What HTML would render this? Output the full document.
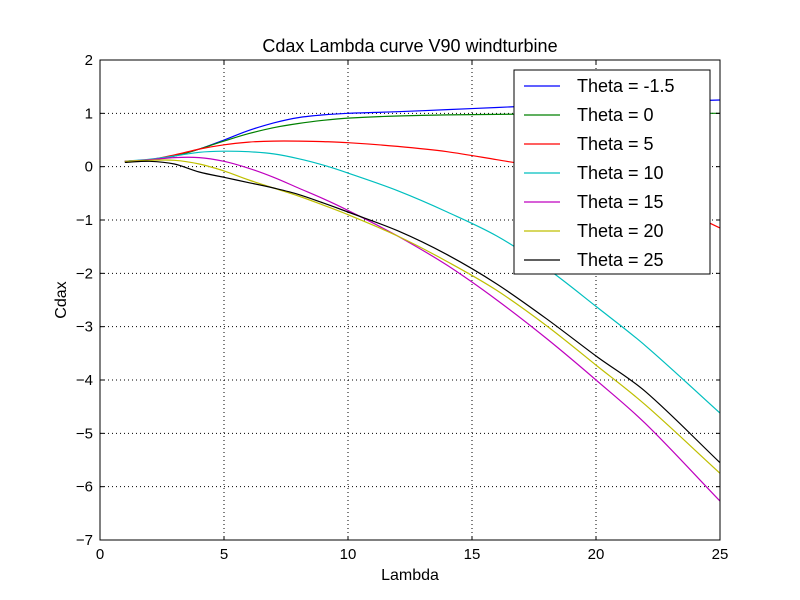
<!DOCTYPE html>
<html><head><meta charset="utf-8"><style>
body{margin:0;background:#fff;}
svg{display:block;font-family:"Liberation Sans","DejaVu Sans",sans-serif;}
</style></head><body>
<svg id="c" width="800" height="600"></svg>
<script>
const xs=[1,2,3,4,5,6,7,8,9,10,12,14,16,18,20,22,25];
const labels=["Theta = -1.5","Theta = 0","Theta = 5","Theta = 10","Theta = 15","Theta = 20","Theta = 25"];
const colors=["#0000ff","#008000","#ff0000","#00bfbf","#bf00bf","#bfbf00","#000000"];
const sM15=[0.1,0.13,0.2,0.33,0.5,0.68,0.82,0.92,0.97,1.0,1.03,1.07,1.11,1.15,1.18,1.21,1.25];
const s0=[0.1,0.13,0.2,0.33,0.48,0.62,0.73,0.81,0.87,0.91,0.95,0.97,0.98,0.99,1.0,1.0,1.0];
const s5=[0.1,0.13,0.22,0.33,0.41,0.46,0.48,0.48,0.47,0.45,0.38,0.28,0.13,-0.03,-0.25,-0.5,-1.15];
const s10=[0.1,0.14,0.2,0.27,0.29,0.28,0.24,0.15,0.03,-0.12,-0.45,-0.85,-1.3,-1.9,-2.62,-3.36,-4.62];
const s15=[0.1,0.13,0.17,0.17,0.1,-0.03,-0.2,-0.4,-0.6,-0.82,-1.3,-1.85,-2.5,-3.22,-4.0,-4.82,-6.27];
const s20=[0.1,0.12,0.12,0.05,-0.08,-0.25,-0.4,-0.55,-0.72,-0.9,-1.3,-1.78,-2.32,-2.98,-3.72,-4.47,-5.75];
const s25=[0.08,0.1,0.05,-0.1,-0.2,-0.3,-0.4,-0.52,-0.68,-0.85,-1.2,-1.65,-2.2,-2.85,-3.55,-4.22,-5.55];
const series=[sM15,s0,s5,s10,s15,s20,s25];
const xTicks=[0,5,10,15,20,25];
const yTicks=[-7,-6,-5,-4,-3,-2,-1,0,1,2];
const L=100,R=720,T=60,B=540;
const X=v=>L+(v-0)/25*(R-L);
const Y=v=>B-(v+7)/9*(B-T);
const svg=document.getElementById('c');
const NS="http://www.w3.org/2000/svg";
function mk(t,a,p){const e=document.createElementNS(NS,t);for(const k in a)e.setAttribute(k,a[k]);(p||svg).appendChild(e);return e;}
function smooth(pts){const n=pts.length,m=[];
for(let i=0;i<n;i++){const a=pts[Math.max(0,i-1)],b=pts[Math.min(n-1,i+1)];m.push((b[1]-a[1])/(b[0]-a[0]));}
let d='M'+pts[0][0].toFixed(1)+','+pts[0][1].toFixed(1);
for(let i=0;i<n-1;i++){const p1=pts[i],p2=pts[i+1],h=(p2[0]-p1[0])/3;
d+='C'+(p1[0]+h).toFixed(1)+','+(p1[1]+m[i]*h).toFixed(1)+' '+(p2[0]-h).toFixed(1)+','+(p2[1]-m[i+1]*h).toFixed(1)+' '+p2[0].toFixed(1)+','+p2[1].toFixed(1);}
return d;}
xTicks.forEach(t=>{if(t>0&&t<25){const g=mk('line',{x1:X(t),x2:X(t),y1:T,y2:B,stroke:'#000','stroke-dasharray':'1,3','stroke-width':1});

}});
yTicks.forEach(t=>{if(t>-7&&t<2){const g=mk('line',{x1:L,x2:R,y1:Y(t),y2:Y(t),stroke:'#000','stroke-dasharray':'1,3','stroke-width':1});

}});
series.forEach((s,i)=>{const d=smooth(s.map((v,j)=>[X(xs[j]),Y(v)]));
const p=mk('path',{d:d,fill:'none',stroke:colors[i],'stroke-width':1.2});

});
const f=mk('rect',{x:L,y:T,width:R-L,height:B-T,fill:'none',stroke:'#000','stroke-width':1});


xTicks.forEach(t=>{mk('line',{x1:X(t),x2:X(t),y1:B,y2:B-4,stroke:'#000'});mk('line',{x1:X(t),x2:X(t),y1:T,y2:T+4,stroke:'#000'});
const tx=mk('text',{x:X(t),y:B+19,'text-anchor':'middle','font-size':15});tx.textContent=t;

});
yTicks.forEach(t=>{mk('line',{x1:L,x2:L+4,y1:Y(t),y2:Y(t),stroke:'#000'});mk('line',{x1:R,x2:R-4,y1:Y(t),y2:Y(t),stroke:'#000'});
const tx=mk('text',{x:L-7,y:Y(t)+5,'text-anchor':'end','font-size':15});tx.textContent=t<0?'\u2212'+(-t):t;

});
let t=mk('text',{x:410,y:52,'text-anchor':'middle','font-size':18});t.textContent='Cdax Lambda curve V90 windturbine';


t=mk('text',{x:410,y:580,'text-anchor':'middle','font-size':16});t.textContent='Lambda';


t=mk('text',{x:66,y:300,'text-anchor':'middle','font-size':16,transform:'rotate(-90 66 300)'});t.textContent='Cdax';


const lg=mk('rect',{x:514,y:70,width:196,height:204,fill:'#fff',stroke:'#000'});


labels.forEach((l,i)=>{const y=86+i*29;
const ln=mk('line',{x1:524,x2:560,y1:y,y2:y,stroke:colors[i],'stroke-width':1.2});


const tx=mk('text',{x:577,y:y+6,'font-size':18});tx.textContent=l;

});
</script>
</body></html>
